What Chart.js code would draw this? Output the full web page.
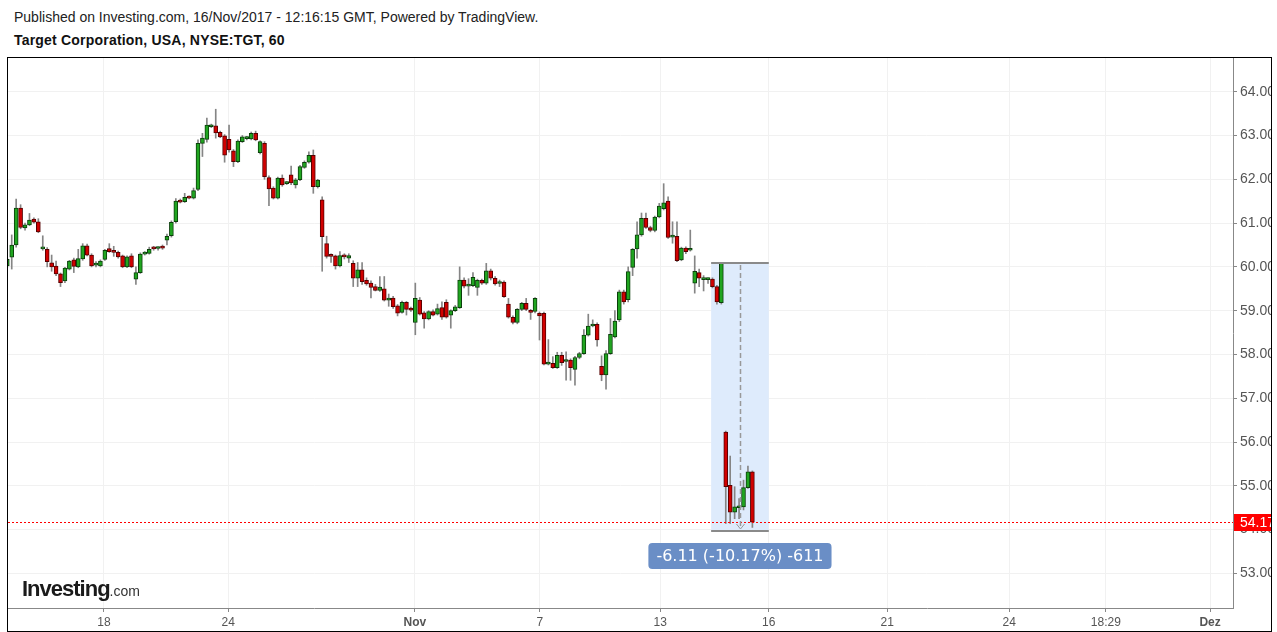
<!DOCTYPE html>
<html>
<head>
<meta charset="utf-8">
<title>Target Corporation, NYSE:TGT, 60</title>
<script src="https://cdn.jsdelivr.net/npm/chart.js@4.4.0/dist/chart.umd.min.js"></script>
<style>
    html, body { margin: 0; padding: 0; background: #fff; overflow: hidden; }
    body { width: 1277px; height: 632px; position: relative; font-family: Arial, "Liberation Sans", sans-serif; }
    .published { position: absolute; left: 14px; top: 9px; font-size: 14px; color: #222; white-space: nowrap; }
    .title { position: absolute; left: 14px; top: 32px; font-size: 14px; font-weight: bold; letter-spacing: 0.2px; color: #111; white-space: nowrap; }
    .frame { position: absolute; left: 7px; top: 57px; width: 1263px; height: 573px; border: 1px solid #000; overflow: hidden; }
    .chart-box { position: relative; width: 1263px; height: 573px; }
    .logo { position: absolute; left: 22px; top: 578px; line-height: 1; white-space: nowrap; color: #1a1a1a; }
    .logo b { font-size: 22px; letter-spacing: -1px; }
    .logo span { font-size: 14px; color: #333; }
</style>
</head>
<body>
<div class="published">Published on Investing.com, 16/Nov/2017 - 12:16:15 GMT, Powered by TradingView.</div>
<div class="title">Target Corporation, USA, NYSE:TGT, 60</div>
<div class="frame"><div class="chart-box"><canvas id="tgtChart"></canvas></div></div>
<div class="logo"><b>Investing</b><span>.com</span></div>

<script>
// Hourly candles, 13 Oct - 15 Nov 2017 (one entry per bar)
const openP = [
    60.02, 60.22, 60.50, 61.34, 60.89, 60.96, 61.09, 61.03, 60.41, 60.40,
    60.09, 60.02, 59.84, 59.68, 59.95, 60.16, 60.00, 60.18, 60.48, 60.27,
    60.04, 60.02, 60.17, 60.42, 60.37, 60.33, 60.25, 60.00, 60.25, 59.72,
    59.87, 60.29, 60.31, 60.45, 60.42, 60.47, 60.61, 60.71, 61.03, 61.52,
    61.49, 61.60, 61.57, 61.77, 62.82, 62.91, 63.20, 63.22, 63.07, 62.99,
    62.91, 62.65, 62.40, 62.86, 62.93, 62.92, 63.05, 62.61, 62.82, 62.04,
    61.80, 61.57, 62.03, 61.90, 62.10, 61.87, 61.99, 62.27, 62.39, 62.55,
    61.83, 61.53, 60.53, 60.26, 60.25, 60.02, 60.25, 60.20, 60.08, 59.74,
    59.93, 59.69, 59.63, 59.55, 59.46, 59.50, 59.24, 59.29, 59.11, 58.96,
    59.19, 59.06, 58.73, 59.24, 58.95, 58.81, 58.98, 58.92, 59.07, 59.19,
    58.90, 59.00, 59.07, 59.70, 59.56, 59.57, 59.53, 59.69, 59.63, 59.91,
    59.74, 59.62, 59.65, 59.15, 58.85, 58.73, 59.03, 59.17, 59.00, 58.98,
    58.94, 58.94, 57.78, 57.80, 57.70, 57.98, 57.84, 57.87, 57.66, 57.93,
    58.02, 58.44, 58.65, 58.69, 57.73, 57.53, 58.02, 58.40, 58.79, 59.43,
    59.25, 59.99, 60.41, 60.73, 61.11, 60.90, 60.83, 61.14, 61.33, 61.50,
    60.68, 60.70, 60.16, 60.43, 60.38, 59.63, 59.87, 59.71, 59.71, 59.72,
    59.55, 59.18, 56.23, 55.01, 54.40, 54.50, 54.52, 54.96, 55.32
];
const highP = [
    60.20, 60.73, 61.55, 61.42, 61.00, 61.22, 61.12, 61.10, 60.71, 60.44,
    60.27, 60.13, 59.86, 59.99, 60.15, 60.20, 60.40, 60.53, 60.52, 60.30,
    60.12, 60.16, 60.40, 60.53, 60.47, 60.36, 60.27, 60.25, 60.30, 60.00,
    60.32, 60.35, 60.45, 60.47, 60.46, 60.50, 60.75, 61.05, 61.56, 61.55,
    61.68, 61.62, 61.80, 62.90, 63.05, 63.40, 63.26, 63.60, 63.10, 63.02,
    63.24, 62.68, 62.90, 63.00, 62.98, 63.08, 63.10, 62.88, 62.86, 62.08,
    61.83, 62.05, 62.10, 61.95, 62.30, 62.02, 62.32, 62.42, 62.63, 62.67,
    62.00, 61.60, 60.70, 60.30, 60.27, 60.35, 60.30, 60.30, 60.14, 60.10,
    60.10, 59.75, 59.68, 59.60, 59.78, 59.78, 59.38, 59.33, 59.14, 59.22,
    59.21, 59.08, 59.63, 59.30, 58.98, 59.00, 59.02, 59.15, 59.20, 59.25,
    59.02, 59.12, 60.00, 59.75, 59.73, 59.87, 59.72, 59.72, 60.08, 59.95,
    59.78, 59.70, 59.68, 59.28, 58.88, 59.05, 59.19, 59.28, 59.03, 59.30,
    58.97, 58.97, 58.34, 57.95, 58.05, 58.05, 58.06, 57.90, 57.96, 58.05,
    58.57, 58.92, 58.79, 58.72, 57.97, 58.09, 58.82, 59.00, 59.47, 59.47,
    60.00, 60.42, 61.03, 61.23, 61.23, 60.93, 61.16, 61.45, 61.90, 61.60,
    61.03, 61.03, 60.45, 60.46, 60.84, 60.25, 59.95, 59.80, 59.75, 59.75,
    59.58, 60.10, 56.25, 55.68, 54.98, 54.71, 55.13, 55.45, 55.34
];
const lowP = [
    59.98, 59.95, 60.45, 60.87, 60.84, 60.94, 61.00, 60.78, 60.38, 60.00,
    59.90, 59.80, 59.55, 59.64, 59.93, 59.87, 59.98, 60.15, 60.25, 60.00,
    60.00, 60.00, 60.15, 60.33, 60.24, 60.20, 59.98, 59.98, 59.98, 59.60,
    59.85, 60.27, 60.29, 60.38, 60.38, 60.40, 60.50, 60.68, 61.00, 61.46,
    61.47, 61.55, 61.55, 61.74, 62.52, 62.85, 63.18, 62.94, 62.95, 62.39,
    62.62, 62.29, 62.38, 62.84, 62.90, 62.90, 62.88, 62.58, 62.00, 61.40,
    61.55, 61.55, 61.84, 61.88, 61.88, 61.80, 61.97, 62.25, 62.37, 61.68,
    61.80, 59.90, 60.20, 60.10, 59.95, 60.00, 60.18, 60.10, 59.55, 59.55,
    59.60, 59.58, 59.29, 59.45, 59.44, 59.22, 59.10, 59.05, 58.88, 58.94,
    58.90, 58.98, 58.45, 58.90, 58.60, 58.79, 58.88, 58.90, 58.80, 58.83,
    58.60, 58.98, 59.05, 59.52, 59.35, 59.55, 59.35, 59.60, 59.60, 59.70,
    59.58, 59.55, 59.30, 58.83, 58.70, 58.70, 59.00, 59.00, 58.80, 58.95,
    58.33, 57.76, 57.76, 57.68, 57.68, 57.75, 57.41, 57.41, 57.30, 57.90,
    58.00, 58.42, 58.63, 58.19, 57.40, 57.21, 58.00, 58.38, 58.75, 59.15,
    59.20, 59.80, 60.20, 60.70, 60.88, 60.80, 60.80, 61.12, 61.30, 60.65,
    60.54, 60.12, 60.14, 60.30, 60.36, 59.40, 59.55, 59.45, 59.62, 59.52,
    59.15, 59.15, 54.14, 54.14, 54.25, 54.25, 54.45, 54.94, 54.05
];
const closeP = [
    60.17, 60.50, 61.34, 60.90, 60.96, 61.07, 61.02, 60.80, 60.44, 60.12,
    60.00, 59.84, 59.64, 59.97, 60.13, 60.01, 60.19, 60.48, 60.27, 60.02,
    60.08, 60.13, 60.38, 60.35, 60.33, 60.23, 60.00, 60.23, 60.00, 59.87,
    60.29, 60.32, 60.40, 60.41, 60.44, 60.43, 60.70, 61.02, 61.50, 61.48,
    61.59, 61.57, 61.74, 62.82, 62.94, 63.24, 63.23, 63.06, 62.97, 62.55,
    62.67, 62.40, 62.87, 62.97, 62.95, 63.05, 62.90, 62.86, 62.06, 61.78,
    61.57, 62.03, 61.87, 61.93, 61.92, 61.99, 62.29, 62.39, 62.55, 61.83,
    61.98, 60.69, 60.24, 60.24, 60.02, 60.26, 60.23, 60.26, 59.74, 59.93,
    59.66, 59.61, 59.53, 59.46, 59.54, 59.24, 59.29, 59.09, 58.94, 59.19,
    59.03, 59.01, 59.28, 58.92, 58.81, 58.98, 58.90, 59.05, 58.85, 58.85,
    59.00, 59.09, 59.70, 59.56, 59.58, 59.76, 59.69, 59.63, 59.91, 59.74,
    59.61, 59.65, 59.32, 58.85, 58.73, 59.03, 59.17, 59.03, 58.96, 59.28,
    58.88, 57.78, 57.81, 57.70, 57.98, 57.81, 57.87, 57.70, 57.93, 58.02,
    58.44, 58.65, 58.69, 58.33, 57.53, 58.02, 58.46, 58.76, 59.43, 59.20,
    59.89, 60.40, 60.73, 61.11, 60.90, 60.83, 61.14, 61.39, 61.46, 60.67,
    60.70, 60.14, 60.43, 60.35, 60.41, 59.90, 59.74, 59.73, 59.73, 59.55,
    59.20, 60.08, 54.98, 54.40, 54.52, 54.53, 54.96, 55.32, 54.17
];

// Axis ticks (x in bar-index units)
const xTickPos = [21.8, 49.8, 91.9, 120.1, 147.2, 171.7, 198.4, 225.9, 247.7, 271.2];
const xTickLabels = ['18', '24', 'Nov', '7', '13', '16', '21', '24', '18:29', 'Dez'];
const yTicks = [53, 54, 55, 56, 57, 58, 59, 60, 61, 62, 63, 64];

// Visible range
const xMin = 0.16, xMax = 276.37;
const yMin = 52.21, yMax = 64.77;

// Price range measurement drawn on the chart
const measureFrom = 60.08;
const measureTo = 53.97;
const measureStart = 158.7;
const measureEnd = 171.7;

const lastPrice = closeP[closeP.length - 1];

const upFill = '#20a520', upLine = '#0b3f0b';
const downFill = '#d10000', downLine = '#560000';

const wickData = highP.map((h, i) => ({ x: i, y: [lowP[i], h] }));
const bodyData = openP.map((o, i) => ({ x: i, y: [Math.min(o, closeP[i]), Math.max(o, closeP[i])] }));
const isUp = openP.map((o, i) => closeP[i] >= o);

// Measurement box, price line and price tag
const overlayPlugin = {
    id: 'overlay',
    beforeDatasetsDraw(chart) {
        const { ctx, scales: { x, y } } = chart;
        const left = x.getPixelForValue(measureStart);
        const right = x.getPixelForValue(measureEnd);
        const top = y.getPixelForValue(measureFrom);
        const bottom = y.getPixelForValue(measureTo);
        ctx.save();
        ctx.fillStyle = '#deebfc';
        ctx.fillRect(left, top, right - left, bottom - top);
        ctx.restore();
    },
    afterDatasetsDraw(chart) {
        const { ctx, chartArea, scales: { x, y } } = chart;
        const left = x.getPixelForValue(measureStart);
        const right = x.getPixelForValue(measureEnd);
        const mid = Math.round((left + right) / 2) + 0.5;
        const top = Math.round(y.getPixelForValue(measureFrom));
        const bottom = Math.round(y.getPixelForValue(measureTo));
        ctx.save();
        // current price line
        const py = Math.round(y.getPixelForValue(lastPrice)) + 0.5;
        ctx.strokeStyle = '#ff0000';
        ctx.lineWidth = 1;
        ctx.setLineDash([2, 2]);
        ctx.beginPath();
        ctx.moveTo(chartArea.left, py);
        ctx.lineTo(chartArea.right, py);
        ctx.stroke();
        // box edges
        ctx.setLineDash([]);
        ctx.strokeStyle = '#8a8a8a';
        ctx.lineWidth = 2;
        ctx.beginPath();
        ctx.moveTo(left, top);
        ctx.lineTo(right, top);
        ctx.moveTo(left, bottom);
        ctx.lineTo(right, bottom);
        ctx.stroke();
        // dashed centre line and arrow head
        ctx.lineWidth = 1.5;
        ctx.strokeStyle = '#999';
        ctx.setLineDash([5, 3]);
        ctx.beginPath();
        ctx.moveTo(mid, top + 2);
        ctx.lineTo(mid, bottom - 2);
        ctx.stroke();
        ctx.setLineDash([]);
        ctx.lineWidth = 1;
        ctx.beginPath();
        ctx.moveTo(mid - 4, bottom - 7);
        ctx.lineTo(mid, bottom - 2);
        ctx.lineTo(mid + 4, bottom - 7);
        ctx.stroke();
        ctx.restore();
    },
    afterDraw(chart) {
        const { ctx, chartArea, scales: { x, y } } = chart;
        const left = x.getPixelForValue(measureStart);
        const right = x.getPixelForValue(measureEnd);
        const mid = (left + right) / 2;
        const bottom = y.getPixelForValue(measureTo);
        const change = measureTo - measureFrom;
        const text = change.toFixed(2) + ' (' + (change / measureFrom * 100).toFixed(2) + '%) ' + Math.round(change * 100);

        ctx.save();
        ctx.font = '16px "DejaVu Sans", Verdana, sans-serif';
        const w = ctx.measureText(text).width + 16;
        const bx = mid - w / 2, by = bottom + 12, bh = 26;
        ctx.fillStyle = '#6a8ec6';
        ctx.beginPath();
        ctx.roundRect(bx, by, w, bh, 4);
        ctx.fill();
        ctx.fillStyle = '#fff';
        ctx.textAlign = 'center';
        ctx.textBaseline = 'middle';
        ctx.fillText(text, mid, by + bh / 2 + 1);

        // price tag on the axis
        const py = Math.round(y.getPixelForValue(lastPrice));
        ctx.fillStyle = '#ff0000';
        ctx.fillRect(chartArea.right + 1, py - 8, chart.width - chartArea.right, 17);
        ctx.fillStyle = '#fff';
        ctx.font = '14px Arial, "Liberation Sans", sans-serif';
        ctx.textAlign = 'left';
        ctx.fillText(lastPrice.toFixed(2), chartArea.right + 7, py + 1);
        ctx.restore();
    }
};

const ctx = document.getElementById('tgtChart').getContext('2d');
new Chart(ctx, {
    type: 'bar',
    data: {
        datasets: [
            {
                label: 'Range',
                data: wickData,
                backgroundColor: '#858585',
                borderWidth: 0,
                barThickness: 1,
                grouped: false,
                order: 2
            },
            {
                label: 'Body',
                data: bodyData,
                backgroundColor: isUp.map(u => u ? upFill : downFill),
                borderColor: isUp.map(u => u ? upLine : downLine),
                borderWidth: 1,
                borderSkipped: false,
                barThickness: 4,
                minBarLength: 2,
                grouped: false,
                order: 1
            }
        ]
    },
    options: {
        responsive: true,
        maintainAspectRatio: false,
        animation: false,
        layout: { padding: 0 },
        plugins: {
            legend: { display: false },
            tooltip: { enabled: false }
        },
        scales: {
            x: {
                type: 'linear',
                min: xMin,
                max: xMax,
                bounds: 'data',
                offset: false,
                afterBuildTicks: scale => { scale.ticks = xTickPos.map(v => ({ value: v })); },
                afterFit: scale => {
                    scale.height = 23;
                    scale.paddingLeft = 0;
                    scale.paddingRight = 0;
                },
                grid: { color: '#f1f1f1', tickColor: '#888', tickLength: 4, offset: false },
                border: { color: '#888' },
                ticks: {
                    autoSkip: false,
                    maxRotation: 0,
                    padding: 3,
                    color: '#555',
                    font: c => ({
                        family: 'Arial, "Liberation Sans", sans-serif',
                        size: 12,
                        weight: /[A-Za-z]/.test(xTickLabels[c.index] || '') ? 'bold' : 'normal'
                    }),
                    callback: (v, i) => xTickLabels[i]
                }
            },
            y: {
                position: 'right',
                min: yMin,
                max: yMax,
                bounds: 'data',
                afterBuildTicks: scale => { scale.ticks = yTicks.map(v => ({ value: v })); },
                afterFit: scale => {
                    scale.width = 38;
                    scale.paddingTop = 0;
                    scale.paddingBottom = 0;
                },
                grid: { color: '#f1f1f1', tickColor: '#888', tickLength: 4 },
                border: { color: '#888' },
                ticks: {
                    padding: 3,
                    color: '#555',
                    font: { family: 'Arial, "Liberation Sans", sans-serif', size: 14 },
                    callback: v => v.toFixed(2)
                }
            }
        }
    },
    plugins: [overlayPlugin]
});
</script>
</body>
</html>
